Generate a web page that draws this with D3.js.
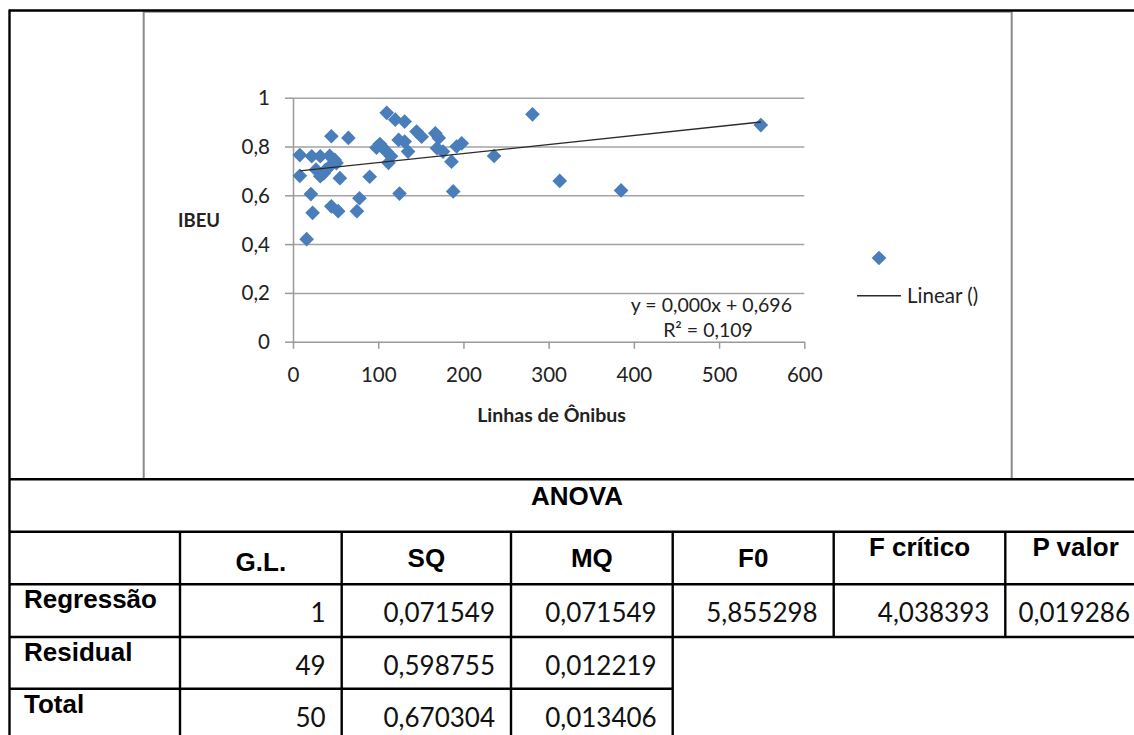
<!DOCTYPE html>
<html>
<head>
<meta charset="utf-8">
<script src="https://cdn.jsdelivr.net/npm/d3@7"></script>
<style>
  body { margin: 0; background: #fff; }
  svg text { font-family: Lato, 'Open Sans', sans-serif; fill: #222; }
  text.bold { font-weight: bold; }
  text.head { font-family: 'Liberation Sans', Arial, sans-serif; font-weight: bold; font-size: 26px; fill: #000; }
  text.cell { font-size: 26px; fill: #111; }
</style>
</head>
<body>
<div id="visualizer"></div>
<script>
'use strict'

// scatter data
const linhas = [8, 8, 22, 32, 43, 45, 65, 32, 38, 43, 51, 55, 21, 23, 45, 53, 75, 78, 90, 16,
  98, 102, 106, 110, 120, 131, 112, 110, 124, 131, 135, 125, 145, 151, 167, 171, 169, 176, 186,
  192, 198, 188, 236, 281, 313, 385, 549, 49, 36, 27, 115]
const ibeu = [0.765, 0.680, 0.760, 0.760, 0.762, 0.842, 0.835, 0.678, 0.703, 0.718, 0.732, 0.670,
  0.605, 0.528, 0.555, 0.535, 0.535, 0.588, 0.676, 0.420, 0.795, 0.810, 0.793, 0.938, 0.910, 0.902,
  0.733, 0.778, 0.827, 0.820, 0.779, 0.607, 0.861, 0.840, 0.854, 0.835, 0.793, 0.779, 0.738, 0.800,
  0.813, 0.616, 0.761, 0.932, 0.659, 0.620, 0.888, 0.745, 0.690, 0.705, 0.760]
const xTicks = [0, 100, 200, 300, 400, 500, 600]
const yTicks = [0, 0.2, 0.4, 0.6, 0.8, 1]
// trend line: intercept, slope
const trendCoef = [0.697, 0.00037]
const trendLabels = ['y = 0,000x + 0,696', 'R² = 0,109']

// ANOVA table
const anovaHeader = ['', 'G.L.', 'SQ', 'MQ', 'F0', 'F crítico', 'P valor']
const anovaRowNames = ['Regressão', 'Residual', 'Total']
const rowRegressao = ['1', '0,071549', '0,071549', '5,855298', '4,038393', '0,019286']
const rowResidual = ['49', '0,598755', '0,012219']
const rowTotal = ['50', '0,670304', '0,013406']

const W = 1134
const H = 735
const svg = d3.select('#visualizer').append('svg')
  .attr('width', W)
  .attr('height', H)

const x = d3.scaleLinear().domain([0, 600]).range([293, 804.3])
const y = d3.scaleLinear().domain([0, 1]).range([341.7, 97.7])
const comma = d3.formatLocale({ decimal: ',', thousands: '.', grouping: [3], currency: ['', ''] })
const fmtY = d => comma.format('~g')(d)

// chart frame (gray)
const frame = svg.append('g').attr('class', 'frame')
frame.append('line').attr('x1', 143.7).attr('x2', 143.7).attr('y1', 11).attr('y2', 479)
  .attr('stroke', '#8a8a8a').attr('stroke-width', 2)
frame.append('line').attr('x1', 1011.7).attr('x2', 1011.7).attr('y1', 11).attr('y2', 479)
  .attr('stroke', '#8a8a8a').attr('stroke-width', 2)
frame.append('line').attr('x1', 143).attr('x2', 1012).attr('y1', 12).attr('y2', 12)
  .attr('stroke', '#8a8a8a').attr('stroke-width', 1.5)

// gridlines
svg.append('g')
  .attr('class', 'grid')
  .attr('transform', `translate(${x(0)},0)`)
  .call(d3.axisLeft(y).tickValues(yTicks.filter(d => d > 0)).tickSize(-(x(600) - x(0))).tickFormat(''))
  .call(g => g.select('.domain').remove())
  .call(g => g.selectAll('line').attr('stroke', '#a3a3a3').attr('stroke-width', 1.5))

// y axis
svg.append('g')
  .attr('transform', `translate(${x(0)},0)`)
  .call(d3.axisLeft(y).tickValues(yTicks).tickFormat(fmtY).tickSize(8).tickSizeOuter(0).tickPadding(15))
  .call(g => g.select('.domain').attr('stroke', '#9a9a9a').attr('stroke-width', 1.5))
  .call(g => g.selectAll('.tick line').attr('stroke', '#9a9a9a').attr('stroke-width', 1.5))
  .call(g => g.selectAll('.tick text').attr('font-family', null).attr('font-size', 20.5)
    .attr('fill', '#2a2a2a').attr('dy', '0.34em'))

// x axis
svg.append('g')
  .attr('transform', `translate(0,${y(0)})`)
  .call(d3.axisBottom(x).tickValues(xTicks).tickSize(7).tickSizeOuter(0).tickPadding(19))
  .call(g => g.select('.domain').attr('stroke', '#9a9a9a').attr('stroke-width', 1.5))
  .call(g => g.selectAll('.tick line').attr('stroke', '#9a9a9a').attr('stroke-width', 1.5))
  .call(g => g.selectAll('.tick text').attr('font-family', null).attr('font-size', 20.5)
    .attr('fill', '#2a2a2a').attr('dy', '0.71em'))

// axis titles
svg.append('text').attr('class', 'bold')
  .attr('x', 199).attr('y', 227).attr('text-anchor', 'middle')
  .attr('font-size', 18.5).text('IBEU')
svg.append('text').attr('class', 'bold')
  .attr('x', 551.5).attr('y', 421.5).attr('text-anchor', 'middle')
  .attr('font-size', 19.5).text('Linhas de Ônibus')

// markers
const diamond = d3.symbol().type(d3.symbolSquare).size(108)
const points = linhas.map((v, i) => ({ x: v, y: ibeu[i] }))
svg.append('g')
  .attr('class', 'points')
  .selectAll('path')
  .data(points)
  .enter()
  .append('path')
  .attr('d', diamond)
  .attr('transform', d => `translate(${x(d.x)},${y(d.y)}) rotate(45)`)
  .attr('fill', '#4a7ebb')

// trend line
const xMin = d3.min(linhas)
const xMax = d3.max(linhas)
svg.append('line')
  .attr('x1', x(xMin)).attr('y1', y(trendCoef[0] + trendCoef[1] * xMin))
  .attr('x2', x(xMax)).attr('y2', y(trendCoef[0] + trendCoef[1] * xMax))
  .attr('stroke', '#2a2a2a').attr('stroke-width', 1.4)

svg.append('text').attr('x', 792).attr('y', 311.5).attr('text-anchor', 'end')
  .attr('font-size', 19.5).text(trendLabels[0])
svg.append('text').attr('x', 708).attr('y', 336.5).attr('text-anchor', 'middle')
  .attr('font-size', 19.5).text(trendLabels[1])

// legend
svg.append('path').attr('d', diamond)
  .attr('transform', 'translate(879,258) rotate(45)')
  .attr('fill', '#4a7ebb')
svg.append('line').attr('x1', 857).attr('x2', 901).attr('y1', 295.7).attr('y2', 295.7)
  .attr('stroke', '#2a2a2a').attr('stroke-width', 1.4)
svg.append('text').attr('x', 907).attr('y', 302.5).attr('font-size', 20.5).text('Linear ()')

// ANOVA table
const colEdges = [9, 180, 341.7, 511, 672.7, 833.7, 1005.3, 1146]
const rowEdges = [479.3, 531.7, 584.3, 637, 688.7, 745]
const tbl = svg.append('g').attr('class', 'tbl')
const black = sel => sel.attr('stroke', '#000').attr('stroke-width', 2.4)

// horizontal rules
tbl.append('line').attr('x1', 9).attr('x2', W).attr('y1', 10.5).attr('y2', 10.5).call(black)
tbl.selectAll('line.h')
  .data([[0, W], [1, W], [2, W], [3, W], [4, colEdges[4]]])
  .enter()
  .append('line')
  .attr('class', 'h')
  .attr('x1', 9).attr('x2', d => d[1])
  .attr('y1', d => rowEdges[d[0]]).attr('y2', d => rowEdges[d[0]])
  .call(black)
// vertical rules
tbl.append('line').attr('x1', 9.5).attr('x2', 9.5).attr('y1', 9.5).attr('y2', H).call(black)
tbl.selectAll('line.v')
  .data(colEdges.slice(1, 7))
  .enter()
  .append('line')
  .attr('class', 'v')
  .attr('x1', d => d).attr('x2', d => d)
  .attr('y1', rowEdges[1])
  .attr('y2', (d, i) => i < 4 ? H : rowEdges[3])
  .call(black)

tbl.append('text').attr('class', 'head')
  .attr('x', 577).attr('y', 505).attr('text-anchor', 'middle').text('ANOVA')

const headBase = [0, 571, 567, 567, 567, 556, 556]
tbl.selectAll('text.colhead')
  .data(anovaHeader)
  .enter()
  .append('text')
  .attr('class', 'head colhead')
  .attr('x', (d, i) => i === 0 ? 0 : (colEdges[i] + colEdges[i + 1]) / 2)
  .attr('y', (d, i) => headBase[i])
  .attr('text-anchor', 'middle')
  .text(d => d)

tbl.selectAll('text.rowhead')
  .data(anovaRowNames)
  .enter()
  .append('text')
  .attr('class', 'head rowhead')
  .attr('x', 24)
  .attr('y', (d, i) => rowEdges[i + 2] + 24)
  .text(d => d)

const bodyRows = [rowRegressao, rowResidual, rowTotal]
bodyRows.forEach((row, r) => {
  tbl.selectAll(`text.cell.r${r}`)
    .data(row)
    .enter()
    .append('text')
    .attr('class', `cell r${r}`)
    .attr('x', (d, i) => colEdges[i + 2] - 16)
    .attr('y', rowEdges[r + 2] + 38)
    .attr('text-anchor', 'end')
    .text(d => d)
})
</script>
</body>
</html>
